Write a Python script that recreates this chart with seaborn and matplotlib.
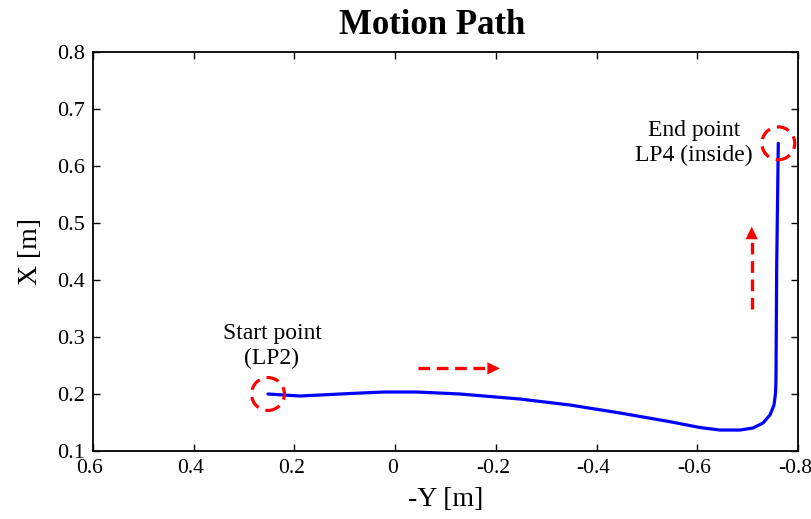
import matplotlib
matplotlib.use("Agg")
import matplotlib.pyplot as plt
import matplotlib.transforms as mtransforms
import seaborn as sns
import pandas as pd

# Measured motion path: horizontal (-Y) and forward (X) position in metres
neg_y = [0.2525, 0.189, 0.1095, 0.0241, -0.0434, -0.1288, -0.2479, -0.3472,
         -0.4465, -0.5458, -0.6053, -0.645, -0.6848, -0.7106, -0.7304,
         -0.7443, -0.7523, -0.7553, -0.7562, -0.7576, -0.7608]
pos_x = [0.200, 0.1965, 0.200, 0.2035, 0.2035, 0.200, 0.1912, 0.1807,
         0.1667, 0.1514, 0.1412, 0.1368, 0.1368, 0.1404, 0.1491,
         0.1632, 0.1807, 0.2018, 0.2246, 0.4233, 0.6398]

x_ticks = [0.6, 0.4, 0.2, 0.0, -0.2, -0.4, -0.6, -0.8]
x_tick_labels = ["0.6", "0.4", "0.2", "0", "-0.2", "-0.4", "-0.6", "-0.8"]
y_ticks = [0.1, 0.2, 0.3, 0.4, 0.5, 0.6, 0.7, 0.8]
y_tick_labels = ["0.1", "0.2", "0.3", "0.4", "0.5", "0.6", "0.7", "0.8"]

# Direction-of-travel arrows (tail, tip) in data units
arrow_h = ((-0.046, 0.245), (-0.208, 0.245))
arrow_v = ((-0.708, 0.350), (-0.708, 0.4935))

start_text = "Start point\n(LP2)"
start_text_pos = (0.2446, 0.284)
end_text = "End point\nLP4 (inside)"
end_text_pos = (-0.5934, 0.640)

sns.set_theme(style="ticks")
plt.rcParams["font.family"] = ["Liberation Serif", "DejaVu Serif"]
plt.rcParams["axes.unicode_minus"] = False
plt.rcParams["text.color"] = "black"
plt.rcParams["axes.labelcolor"] = "black"
plt.rcParams["xtick.color"] = "black"
plt.rcParams["ytick.color"] = "black"

fig = plt.figure(figsize=(8.12, 5.19), dpi=100)
ax = fig.add_axes([0.1145, 0.131, 0.9828 - 0.1145, 0.8998 - 0.131])

df = pd.DataFrame({"neg_y": neg_y, "pos_x": pos_x})
sns.lineplot(data=df, x="neg_y", y="pos_x", sort=False, estimator=None,
             color="#0000ff", linewidth=2.3, ax=ax)
for ln in ax.get_lines():
    ln.set_solid_joinstyle("round")
    ln.set_solid_capstyle("round")

# Dashed circles marking the start and end of the path
ends = df.iloc[[0, -1]]
ax.scatter(ends["neg_y"], ends["pos_x"], s=560, facecolors="none",
           edgecolors="#ff0000", linewidths=2.3, linestyles=(0, (4.0, 2.3)),
           zorder=4)

def dashed_arrow(tail, tip, head_frac):
    hx = tip[0] - (tip[0] - tail[0]) * head_frac
    hy = tip[1] - (tip[1] - tail[1]) * head_frac
    ax.plot([tail[0], hx], [tail[1], hy], color="#ff0000", linewidth=2.4,
            dashes=(3.5, 2.0), dash_capstyle="butt")
    ax.annotate("", xy=tip, xytext=(hx, hy),
                arrowprops=dict(arrowstyle="-|>,head_length=0.45,head_width=0.22",
                                color="#ff0000", lw=0.01, mutation_scale=20,
                                shrinkA=0, shrinkB=0))

dashed_arrow(*arrow_h, head_frac=0.14)
dashed_arrow(*arrow_v, head_frac=0.14)

ax.text(*start_text_pos, start_text, ha="center", va="center",
        multialignment="center", fontsize=17, linespacing=1.25)
ax.text(*end_text_pos, end_text, ha="center", va="center",
        multialignment="center", fontsize=17, linespacing=1.25)

ax.set_xlim(0.6, -0.8)
ax.set_ylim(0.1, 0.8)
ax.set_xticks(x_ticks)
ax.set_xticklabels(x_tick_labels)
ax.set_yticks(y_ticks)
ax.set_yticklabels(y_tick_labels)
ax.tick_params(axis="both", which="both", direction="in", length=5, width=1,
               top=True, right=True, pad=6,
               colors="black", labelcolor="black")
ax.tick_params(axis="x", labelsize=15.5)
ax.tick_params(axis="y", labelsize=16)

# nudge the x tick labels a few pixels left so the last one stays on the canvas
shift = mtransforms.ScaledTranslation(-3 / 100, 0, fig.dpi_scale_trans)
for lbl in ax.get_xticklabels():
    lbl.set_transform(lbl.get_transform() + shift)

for sp in ax.spines.values():
    sp.set_visible(True)
    sp.set_linewidth(1.3)
    sp.set_color("black")

ax.set_xlabel("-Y [m]", fontsize=20, labelpad=6, color="black")
ax.set_ylabel("X [m]", fontsize=20, labelpad=10, color="black")
ax.set_title("Motion Path", fontsize=25, fontweight="bold", pad=13,
             x=0.481, color="black")

fig.savefig("out.png", dpi=100)
